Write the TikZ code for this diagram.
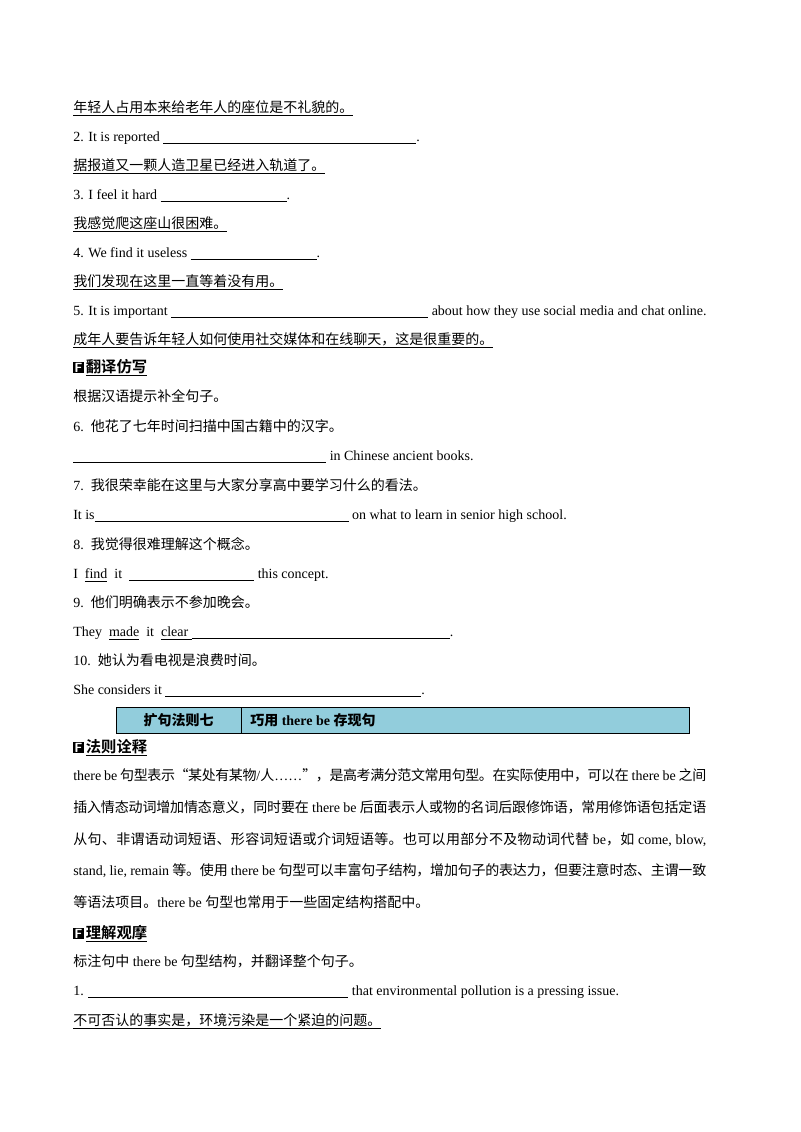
\documentclass[tikz,border=0pt]{standalone}
\usepackage{fontspec}
\setmainfont{Liberation Serif}
\newfontfamily\cjkr{Noto Sans CJK SC}
\newfontfamily\cjkb{Noto Sans CJK SC Bold}
\let\curcjk\cjkr
\newdimen\pxu \pxu=0.75pt
\XeTeXinterchartokenstate=1
\newXeTeXintercharclass\cjkcls
\newcount\cc
\def\setrange#1#2{\cc=#1\relax\loop\XeTeXcharclass\cc=\cjkcls\ifnum\cc<#2\advance\cc by 1\repeat}
\setrange{"2018}{"201D}
\setrange{"3000}{"303F}
\setrange{"4E00}{"9FFF}
\setrange{"FF00}{"FFEF}
\XeTeXinterchartoks 0 \cjkcls = {\curcjk}
\XeTeXinterchartoks 4095 \cjkcls = {\curcjk}
\XeTeXinterchartoks \cjkcls 0 = {\rmfamily}
\XeTeXinterchartoks \cjkcls 4095 = {\rmfamily}
\XeTeXinterchartoks \cjkcls \cjkcls = {\hskip0pt plus 2pt minus 0.6pt}
\definecolor{tabblue}{HTML}{92CDDC}
\def\ul#1{\setbox0\hbox{#1}\rlap{\rule[-3pt]{\wd0}{0.5pt}}\box0}
\def\bl#1{\rule[-2pt]{#1\pxu}{0.5pt}}
\def\hd#1{{\setlength\fboxsep{0.8pt}\colorbox{black}{\textcolor{white}{\sffamily\bfseries\fontsize{10pt}{10pt}\selectfont F}}}\,{\fontsize{11.5pt}{13pt}\selectfont\let\curcjk\cjkb\ul{#1}}}
\tikzset{t/.style={anchor=base west,inner sep=0pt,font=\fontsize{10.5pt}{12pt}\selectfont}}
\begin{document}
\begin{tikzpicture}[x=0.75pt,y=-0.75pt]
\useasboundingbox (0,0) rectangle (800,1132);
\node[t] (a1) at (73,112) {\ul{年轻人占用本来给老年人的座位是不礼貌的。}};
\node[t] (a2) at (73,141) {2. It is reported \bl{253}.};
\node[t] (a3) at (73,170) {\ul{据报道又一颗人造卫星已经进入轨道了。}};
\node[t] (a4) at (73,199) {3. I feel it hard \bl{126}.};
\node[t] (a5) at (73,228) {\ul{我感觉爬这座山很困难。}};
\node[t] (a6) at (73,257) {4. We find it useless \bl{126}.};
\node[t] (a7) at (73,286) {\ul{我们发现在这里一直等着没有用。}};
\node[t] (a8) at (73,315) {5. It is important \bl{257} about how they use social media and chat online.};
\node[t] (a9) at (73,344) {\ul{成年人要告诉年轻人如何使用社交媒体和在线聊天，这是很重要的。}};
\node[t] (h1) at (73,372) {\hd{翻译仿写}};
\node[t] (b1) at (73,401) {根据汉语提示补全句子。};
\node[t] (b2) at (73,431) {6.\ \ 他花了七年时间扫描中国古籍中的汉字。};
\node[t] (b3) at (73,460) {\bl{253} in Chinese ancient books.};
\node[t] (b4) at (73,490) {7.\ \ 我很荣幸能在这里与大家分享高中要学习什么的看法。};
\node[t] (b5) at (73,519) {It is\bl{254} on what to learn in senior high school.};
\node[t] (b6) at (73,549) {8.\ \ 我觉得很难理解这个概念。};
\node[t] (b7) at (73,578) {I\ \ \ul{find}\ \ it\ \ \bl{125} this concept.};
\node[t] (b8) at (73,607) {9.\ \ 他们明确表示不参加晚会。};
\node[t] (b9) at (73,636) {They\ \ \ul{made}\ \ it\ \ \ul{clear\ }\bl{258}.};
\node[t] (b10) at (73,665) {10.\ \ 她认为看电视是浪费时间。};
\node[t] (b11) at (73,694) {She considers it \bl{256}.};
\draw[fill=tabblue,line width=0.6pt] (116,707) rectangle (689,733);
\draw[line width=0.6pt] (241,707) -- (241,733);
\node[font=\fontsize{10.5pt}{12pt}\selectfont\bfseries,inner sep=0pt] (c1) at (178.5,720) {\let\curcjk\cjkb 扩句法则七};
\node[t,font=\fontsize{10.5pt}{12pt}\selectfont\bfseries] (c2) at (250,725) {\let\curcjk\cjkb 巧用 there be 存现句};
\node[t] (h2) at (73,752) {\hd{法则诠释}};
\node[t] (p1) at (73,780) {\hbox to 633\pxu{there be 句型表示“某处有某物/人……”，是高考满分范文常用句型。在实际使用中，可以在 there be 之间}};
\node[t] (p2) at (73,812) {\hbox to 633\pxu{插入情态动词增加情态意义，同时要在 there be 后面表示人或物的名词后跟修饰语，常用修饰语包括定语}};
\node[t] (p3) at (73,844) {\hbox to 633\pxu{从句、非谓语动词短语、形容词短语或介词短语等。也可以用部分不及物动词代替 be，如 come, blow,}};
\node[t] (p4) at (73,875) {\hbox to 633\pxu{stand, lie, remain 等。使用 there be 句型可以丰富句子结构，增加句子的表达力，但要注意时态、主谓一致}};
\node[t] (p5) at (73,907) {等语法项目。there be 句型也常用于一些固定结构搭配中。};
\node[t] (h3) at (73,938) {\hd{理解观摩}};
\node[t] (d1) at (73,966) {标注句中 there be 句型结构，并翻译整个句子。};
\node[t] (d2) at (73,995) {1. \bl{260} that environmental pollution is a pressing issue.};
\node[t] (d3) at (73,1025) {\ul{不可否认的事实是，环境污染是一个紧迫的问题。}};
\end{tikzpicture}
\end{document}
